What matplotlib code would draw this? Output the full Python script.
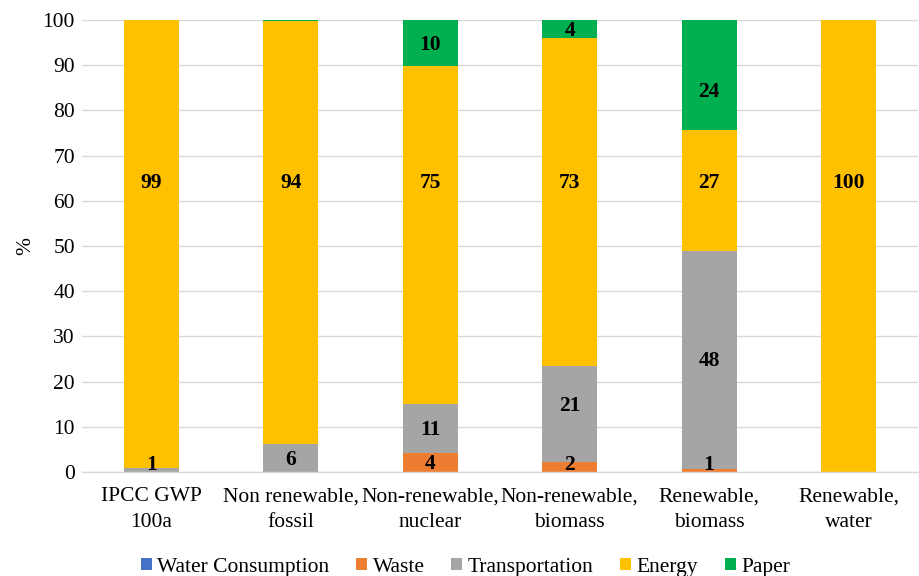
import matplotlib
matplotlib.use("Agg")
import matplotlib.pyplot as plt
import numpy as np

categories = ["IPCC GWP\n100a", "Non renewable,\nfossil", "Non-renewable,\nnuclear",
              "Non-renewable,\nbiomass", "Renewable,\nbiomass", "Renewable,\nwater"]
series_names = ["Water Consumption", "Waste", "Transportation", "Energy", "Paper"]
water = [0.0, 0.0, 0.0, 0.0, 0.0, 0.0]
waste = [0.0, 0.0, 4.2, 2.1, 0.7, 0.0]
transportation = [0.9, 6.2, 10.8, 21.3, 48.3, 0.0]
energy = [99.1, 93.6, 74.8, 72.6, 26.7, 100.0]
paper = [0.0, 0.2, 10.2, 4.0, 24.3, 0.0]
colors = ["#4472C4", "#ED7D31", "#A5A5A5", "#FFC000", "#00B050"]

# label placement as in the source (None = centre of segment)
label_y = {
    "Energy": [64.0] * 6,
    "Transportation": [None, None, None, 14.5, None, None],
    "Paper": [None, None, None, None, 84.0, None],
}

plt.rcParams['font.family'] = ['Liberation Serif', 'DejaVu Serif']
FS = 15.5

fig = plt.figure(figsize=(9.2, 5.76), dpi=100)
ax = fig.add_axes([0.089, 0.1806, 0.909, 0.7847])

x = np.arange(len(categories))
bottom = np.zeros(len(categories))
data = [water, waste, transportation, energy, paper]
for name, vals, c in zip(series_names, data, colors):
    vals = np.array(vals)
    ax.bar(x, vals, 0.395, bottom=bottom, color=c, label=name, zorder=2,
           edgecolor='none')
    ly = label_y.get(name, [None] * 6)
    for i, (xi, v, b) in enumerate(zip(x, vals, bottom)):
        if v >= 0.5:
            yc = ly[i] if ly[i] is not None else max(b + v / 2 - 0.4, 1.6)
            ax.text(xi, yc, f"{v:.0f}", ha='center', va='center',
                    fontsize=FS, fontweight='bold', color='black', zorder=3)
    bottom += vals

ax.set_xlim(-0.5, len(categories) - 0.5)
ax.set_ylim(0, 100)
ax.set_yticks(np.arange(0, 101, 10))
ax.set_xticks(x)
ax.set_xticklabels(categories, fontsize=FS, linespacing=1.45)
ax.tick_params(axis='y', labelsize=FS, length=0, pad=5)
ax.tick_params(axis='x', length=0, pad=11)
ax.yaxis.grid(True, color='#D9D9D9', linewidth=1, zorder=0)
ax.set_axisbelow(True)
for s in ['top', 'right', 'left']:
    ax.spines[s].set_visible(False)
ax.spines['bottom'].set_color('#D9D9D9')
ax.spines['bottom'].set_linewidth(1)
ax.set_ylabel('%', fontsize=FS, labelpad=5)

handles, labels = ax.get_legend_handles_labels()
fig.legend(handles, labels, loc='center', bbox_to_anchor=(0.506, 0.015),
           ncol=5, frameon=False, fontsize=FS, handlelength=0.5,
           handleheight=0.5, handletextpad=0.25, columnspacing=1.25)

fig.savefig("out.png", dpi=100)
